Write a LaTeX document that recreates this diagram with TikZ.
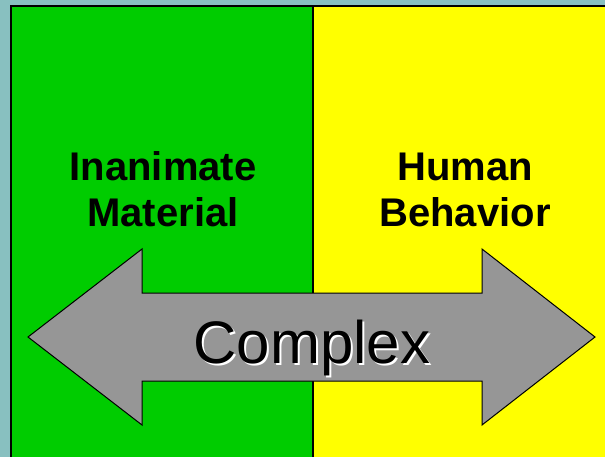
\documentclass[tikz,border=0pt]{standalone}
\usepackage{fontspec}
\setmainfont{Liberation Sans}
\definecolor{frame}{RGB}{136,192,192}
\definecolor{leftside}{RGB}{0,204,0}
\definecolor{rightside}{RGB}{255,255,0}
\definecolor{arrowgray}{RGB}{150,150,150}
\tikzset{
  side/.style={draw=black, line width=2pt},
  label/.style={anchor=base, font=\bfseries\fontsize{40}{46}\selectfont, inner sep=0pt},
  bigword/.style={anchor=base, font=\fontsize{60}{70}\selectfont, inner sep=0pt}
}
\begin{document}
\begin{tikzpicture}[x=1pt,y=-1pt]
\useasboundingbox (0,0) rectangle (605,457);
\fill[frame] (0,0) rectangle (605,457);
\fill[leftside] (11,6.5) rectangle (313,470);
\fill[rightside] (313,6.5) rectangle (620,470);
\draw[side] (11,470) -- (11,6.5) -- (620,6.5);
\draw[side] (313,6.5) -- (313,470);
\node[label] (inanimate) at (163,181) {Inanimate};
\node[label] (material) at (163,227) {Material};
\node[label] (human) at (465,181) {Human};
\node[label] (behavior) at (465,227) {Behavior};
\draw[fill=arrowgray, line width=1pt, line join=miter]
  (28,337) -- (142,249) -- (142,293) -- (482,293) -- (482,249) -- (595,337)
  -- (482,425) -- (482,381) -- (142,381) -- (142,425) -- cycle;
\node[bigword, text=white] (shadow) at (314,365) {Complex};
\node[bigword] (complex) at (312,363) {Complex};
\end{tikzpicture}
\end{document}
